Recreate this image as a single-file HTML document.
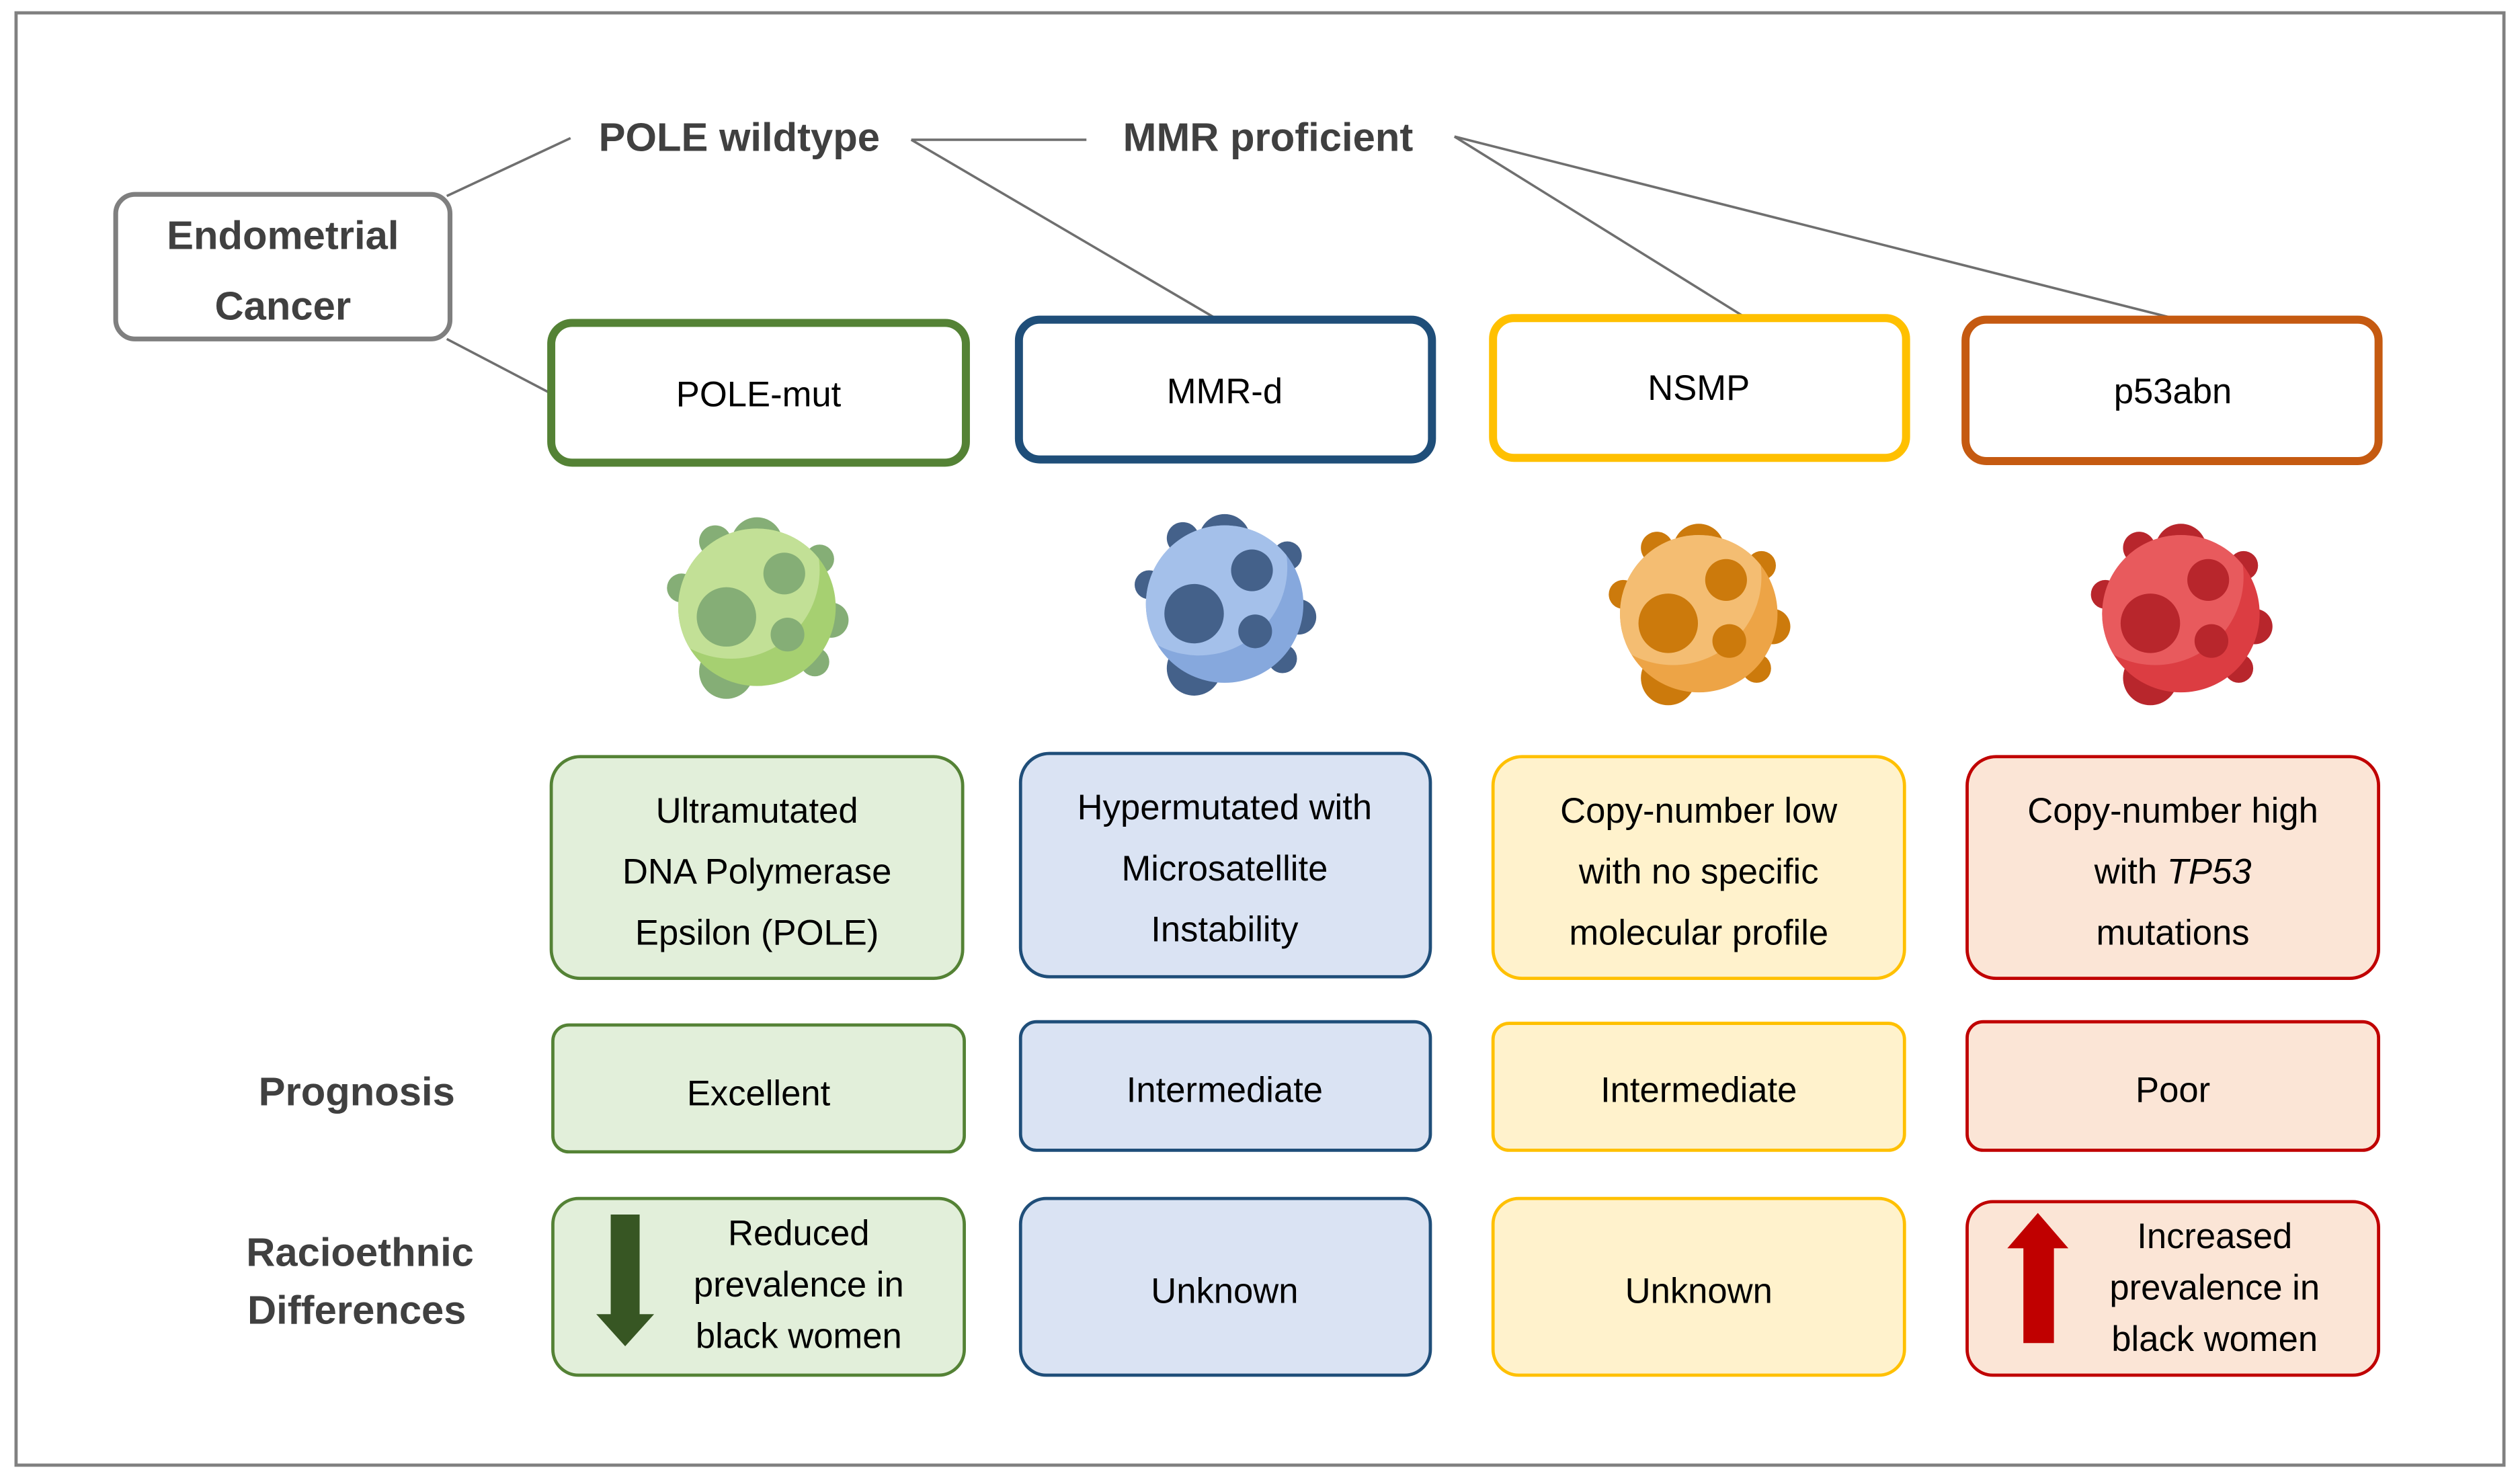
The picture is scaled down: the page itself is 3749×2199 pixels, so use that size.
<!DOCTYPE html>
<html><head><meta charset="utf-8"><style>
html,body{margin:0;padding:0;background:#fff}
svg{display:block}
text{font-family:"Liberation Sans",sans-serif}
</style></head><body>
<svg width="3749" height="2199" viewBox="0 0 1568 920" preserveAspectRatio="none" xmlns="http://www.w3.org/2000/svg">
<defs>
<clipPath id="cc"><circle cx="471" cy="378" r="49"/></clipPath>
<g id="cell">
 <g fill="var(--d)">
  <circle cx="445" cy="337" r="10"/><circle cx="471" cy="338" r="16"/><circle cx="424" cy="366" r="9"/>
  <circle cx="510" cy="348" r="9"/><circle cx="517" cy="386" r="11"/><circle cx="507" cy="412" r="9"/>
  <circle cx="452" cy="418" r="17"/>
 </g>
 <circle cx="471" cy="378" r="49" fill="var(--m)"/>
 <circle cx="455" cy="355" r="55" fill="var(--l)" clip-path="url(#cc)"/>
 <g fill="var(--d)">
  <circle cx="452" cy="384" r="18.5"/><circle cx="488" cy="357" r="13"/><circle cx="490" cy="395" r="10.5"/>
 </g>
</g>
</defs>
<rect x="0" y="0" width="1568" height="920" fill="#fff"/>
<rect x="10" y="8" width="1548" height="904" fill="none" stroke="#808080" stroke-width="2"/>

<g stroke="#6f6f6f" stroke-width="1.5">
<line x1="278" y1="122" x2="355" y2="86"/>
<line x1="278" y1="211" x2="343" y2="245"/>
<line x1="567" y1="87" x2="676" y2="87"/>
<line x1="567" y1="87" x2="763" y2="202"/>
<line x1="905" y1="85" x2="1085" y2="197"/>
<line x1="905" y1="85" x2="1352" y2="198"/>
</g>

<rect x="72" y="121" width="208" height="90" rx="12" fill="#fff" stroke="#7f7f7f" stroke-width="3"/>
<g font-weight="bold" fill="#404040" font-size="25" text-anchor="middle">
<text x="176" y="155">Endometrial</text>
<text x="176" y="199">Cancer</text>
<text x="460" y="94">POLE wildtype</text>
<text x="789" y="94">MMR proficient</text>
<text x="222" y="688">Prognosis</text>
<text x="224" y="788">Racioethnic</text>
<text x="222" y="824">Differences</text>
</g>

<g stroke-width="5" fill="#fff">
<rect x="343" y="201" width="258" height="87" rx="13" stroke="#548235"/>
<rect x="634" y="199" width="257" height="87" rx="13" stroke="#1f4e79"/>
<rect x="929" y="198" width="257" height="87" rx="13" stroke="#ffc000"/>
<rect x="1223" y="199" width="257" height="88" rx="13" stroke="#c55a11"/>
</g>
<g font-size="22" text-anchor="middle" fill="#000">
<text x="472" y="253">POLE-mut</text>
<text x="762" y="251">MMR-d</text>
<text x="1057" y="249">NSMP</text>
<text x="1352" y="251">p53abn</text>
</g>

<use href="#cell" style="--d:#85ae76;--m:#a6d071;--l:#c2e096"/>
<use href="#cell" transform="translate(291,-2)" style="--d:#44618a;--m:#86a8dd;--l:#a4c0ea"/>
<use href="#cell" transform="translate(586,4)" style="--d:#cc7a0c;--m:#eda446;--l:#f4bd72"/>
<use href="#cell" transform="translate(886,4)" style="--d:#b8262c;--m:#dc3d42;--l:#e85a5d"/>

<g stroke-width="2">
<rect x="343" y="471" width="256" height="138" rx="18" fill="#e2efda" stroke="#548235"/>
<rect x="635" y="469" width="255" height="139" rx="18" fill="#dae3f3" stroke="#1f4e79"/>
<rect x="929" y="471" width="256" height="138" rx="18" fill="#fff2cc" stroke="#ffc000"/>
<rect x="1224" y="471" width="256" height="138" rx="18" fill="#fbe5d6" stroke="#c00000"/>
<rect x="344" y="638" width="256" height="79" rx="10" fill="#e2efda" stroke="#548235"/>
<rect x="635" y="636" width="255" height="80" rx="10" fill="#dae3f3" stroke="#1f4e79"/>
<rect x="929" y="637" width="256" height="79" rx="10" fill="#fff2cc" stroke="#ffc000"/>
<rect x="1224" y="636" width="256" height="80" rx="10" fill="#fbe5d6" stroke="#c00000"/>
<rect x="344" y="746" width="256" height="110" rx="16" fill="#e2efda" stroke="#548235"/>
<rect x="635" y="746" width="255" height="110" rx="16" fill="#dae3f3" stroke="#1f4e79"/>
<rect x="929" y="746" width="256" height="110" rx="16" fill="#fff2cc" stroke="#ffc000"/>
<rect x="1224" y="748" width="256" height="108" rx="16" fill="#fbe5d6" stroke="#c00000"/>
</g>

<g font-size="22" text-anchor="middle" fill="#000">
<text x="471" y="512">Ultramutated</text>
<text x="471" y="550">DNA Polymerase</text>
<text x="471" y="588">Epsilon (POLE)</text>
<text x="762" y="510">Hypermutated with</text>
<text x="762" y="548">Microsatellite</text>
<text x="762" y="586">Instability</text>
<text x="1057" y="512">Copy-number low</text>
<text x="1057" y="550">with no specific</text>
<text x="1057" y="588">molecular profile</text>
<text x="1352" y="512">Copy-number high</text>
<text x="1352" y="550">with <tspan font-style="italic">TP53</tspan></text>
<text x="1352" y="588">mutations</text>
<text x="472" y="688">Excellent</text>
<text x="762" y="686">Intermediate</text>
<text x="1057" y="686">Intermediate</text>
<text x="1352" y="686">Poor</text>
<text x="497" y="775">Reduced</text>
<text x="497" y="807">prevalence in</text>
<text x="497" y="839">black women</text>
<text x="762" y="811">Unknown</text>
<text x="1057" y="811">Unknown</text>
<text x="1378" y="777">Increased</text>
<text x="1378" y="809">prevalence in</text>
<text x="1378" y="841">black women</text>
</g>

<polygon points="380,756 398,756 398,818 407,818 389,838 371,818 380,818" fill="#375623"/>
<polygon points="1268,755 1287,777 1278,777 1278,836 1259,836 1259,777 1249,777" fill="#c00000"/>
</svg>
</body></html>
